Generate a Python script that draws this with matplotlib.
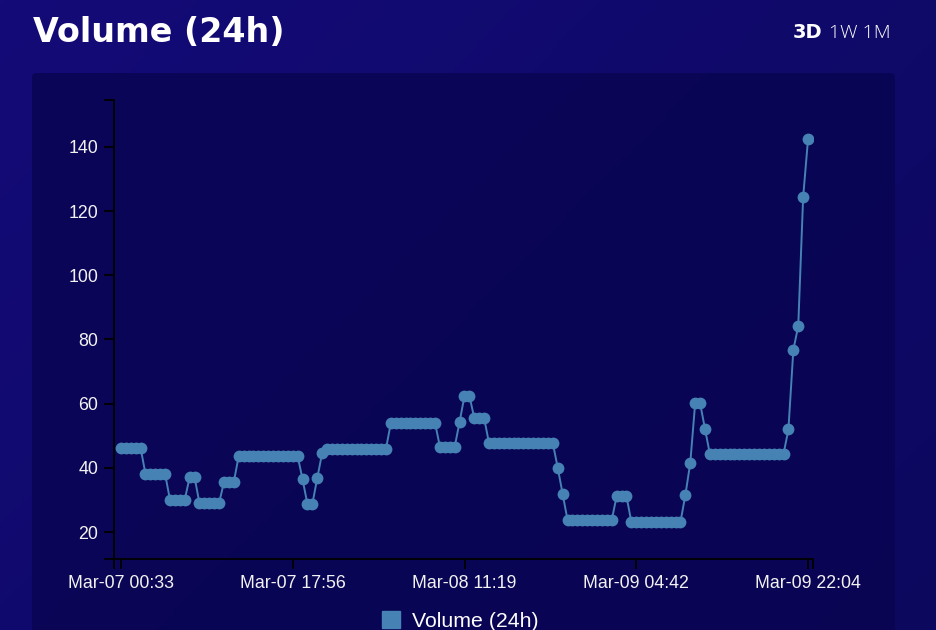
import numpy as np
import pandas as pd
import matplotlib
matplotlib.use("Agg")
import matplotlib.pyplot as plt
import matplotlib.dates as mdates
from matplotlib.patches import Patch, FancyBboxPatch

# --- donnees (un point toutes les ~30 min) ---
first_time = "2024-03-07 00:33"
last_time = "2024-03-09 22:04"
volume = [
    46.3, 46.3, 46.3, 46.3, 46.3,
    38.1, 38.1, 38.1, 38.1, 38.1,
    30.0, 30.0, 30.0, 30.0,
    37.1, 37.1,
    29.0, 29.0, 29.0, 29.0, 29.0,
    35.6, 35.6, 35.6,
    43.7, 43.7, 43.7, 43.7, 43.7, 43.7, 43.7, 43.7, 43.7, 43.7, 43.7, 43.7, 43.7,
    36.5, 28.7, 28.7, 36.8, 44.6,
    45.9, 45.9, 45.9, 45.9, 45.9, 45.9, 45.9, 45.9, 45.9, 45.9, 45.9, 45.9, 45.9,
    54.0, 54.0, 54.0, 54.0, 54.0, 54.0, 54.0, 54.0, 54.0, 54.0,
    46.5, 46.5, 46.5, 46.5,
    54.3, 62.4, 62.4, 55.5, 55.5, 55.5,
    47.7, 47.7, 47.7, 47.7, 47.7, 47.7, 47.7, 47.7, 47.7, 47.7, 47.7, 47.7, 47.7, 47.7,
    40.0, 31.8,
    23.7, 23.7, 23.7, 23.7, 23.7, 23.7, 23.7, 23.7, 23.7, 23.7,
    31.2, 31.2, 31.2,
    23.1, 23.1, 23.1, 23.1, 23.1, 23.1, 23.1, 23.1, 23.1, 23.1, 23.1,
    31.5, 41.5, 60.2, 60.2, 52.1,
    44.3, 44.3, 44.3, 44.3, 44.3, 44.3, 44.3, 44.3, 44.3, 44.3, 44.3, 44.3, 44.3, 44.3, 44.3, 44.3,
    52.0, 76.7, 84.2, 124.4, 142.5,
]
tick_labels = ["Mar-07 00:33", "Mar-07 17:56", "Mar-08 11:19", "Mar-09 04:42", "Mar-09 22:04"]
y_ticks = [20, 40, 60, 80, 100, 120, 140]

times = pd.date_range(first_time, last_time, periods=len(volume))
tick_times = [pd.Timestamp("2024-" + s[:6].replace("Mar", "03") + " " + s[7:]) for s in tick_labels]

W, H = 936, 630
fig = plt.figure(figsize=(W / 100, H / 100), dpi=100)

# fond degrade
bg = fig.add_axes([0, 0, 1, 1], zorder=-2)
gx = np.linspace(0, 1, 200)
gy = np.linspace(0, 1, 140)
GX, GY = np.meshgrid(gx, gy)
c1 = np.array([20, 11, 120]) / 255
c2 = np.array([12, 8, 94]) / 255
t = np.clip(0.6 * GX + 0.4 * GY, 0, 1)[..., None]
bg.imshow(c1 * (1 - t) + c2 * t, aspect="auto", extent=[0, 1, 0, 1], origin="upper")
bg.set_axis_off()

# panneau du graphique
panel = FancyBboxPatch((32 / W, -0.05), (895 - 32) / W, (H - 73) / H + 0.05,
                       boxstyle="round,pad=0,rounding_size=0.006",
                       transform=fig.transFigure, facecolor="#090552", edgecolor="none",
                       alpha=0.85, zorder=-1)
fig.patches.append(panel)

# titre et selecteur de periode
fig.text(33 / W, 1 - 33 / H, "Volume (24h)", color="white", fontsize=24,
         fontweight="bold", family="DejaVu Sans", va="center", ha="left")
fig.text(822 / W, 1 - 33 / H, "3D", color="white", fontsize=14,
         fontweight="bold", family="DejaVu Sans", va="center", ha="right")
fig.text(829 / W, 1 - 33 / H, "1W 1M", color="white", fontsize=14,
         fontweight="light", family="Open Sans", va="center", ha="left")

ax = fig.add_axes([114 / W, 1 - 559 / H, (813 - 114) / W, (559 - 100) / H])
ax.set_facecolor("none")

ax.plot(times, volume, color="#4682b4", lw=1.4, marker="o", ms=8.5,
        markeredgewidth=0, zorder=3)

x0 = pd.Timestamp(first_time) - pd.Timedelta(minutes=42)
x1 = pd.Timestamp(last_time) + pd.Timedelta(minutes=30)
ylo, yhi = 11.6, 154.6
ax.set_xlim(x0, x1)
ax.set_ylim(ylo, yhi)

ax.set_xticks(tick_times)
ax.set_xticklabels(tick_labels)
ax.set_yticks(y_ticks)
# ticks exterieurs aux extremites (style d3)
ax.set_xticks([mdates.date2num(x0), mdates.date2num(x1)], minor=True)
ax.set_yticks([ylo, yhi], minor=True)

for side in ["top", "right"]:
    ax.spines[side].set_visible(False)
for side in ["left", "bottom"]:
    ax.spines[side].set_color("black")
    ax.spines[side].set_linewidth(1.3)

ax.tick_params(which="both", length=7.5, width=1.3, color="black",
               labelcolor="#f2f2f2", labelsize=12.8, pad=4)
for lab in ax.get_xticklabels() + ax.get_yticklabels():
    lab.set_family("Liberation Sans")

fig.legend(handles=[Patch(color="#4682b4", label="Volume (24h)")],
           loc="center", bbox_to_anchor=(460 / W, 1 - 621 / H), frameon=False,
           labelcolor="white", handlelength=0.85, handleheight=0.85,
           handletextpad=0.55, prop={"family": "Liberation Sans", "size": 15.3})

fig.savefig("out.png", dpi=100)
